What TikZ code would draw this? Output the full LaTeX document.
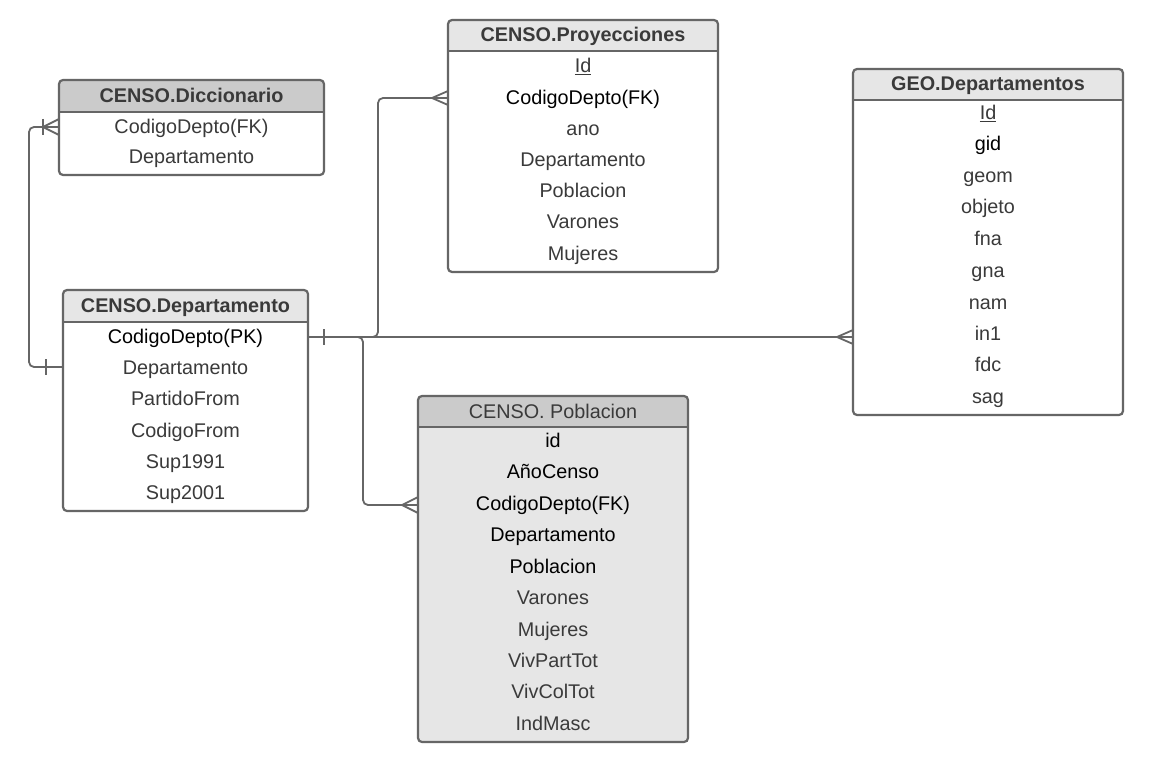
\documentclass[tikz,border=0pt]{standalone}
\usepackage{fontspec}
\setmainfont{Liberation Sans}
\usetikzlibrary{calc}
\definecolor{lc}{HTML}{666666}
\definecolor{tc}{HTML}{3A3A3A}
\definecolor{hl}{HTML}{E6E6E6}
\definecolor{hd}{HTML}{CBCBCB}
\tikzset{
  tblbox/.style={inner sep=0pt, outer sep=0pt, anchor=north west},
  txt/.style={inner sep=0pt, text height=14pt, text depth=0pt, font=\fontsize{19.8}{23}\selectfont},
  row/.style={txt, text=tc},
  rowk/.style={txt, text=black},
  hdr/.style={txt, text=tc, font=\fontsize{19.8}{23}\selectfont\bfseries},
  hdrn/.style={txt, text=tc},
  conn/.style={draw=lc, line width=1.8pt, rounded corners=5pt},
  tick/.style={draw=lc, line width=1.8pt}
}
\newcommand\mktable[8]{%
  \node[tblbox, fill=#6, minimum width=#4pt, minimum height=#5pt] (#1) at (#2,#3) {};
  \begin{scope}
    \clip[rounded corners=4pt] (#1.north west) rectangle (#1.south east);
    \fill[#7] (#1.north west) rectangle ($(#1.north east)+(0,#8)$);
  \end{scope}
  \draw[lc, line width=2pt] ($(#1.north west)+(0,#8)$) -- ($(#1.north east)+(0,#8)$);
  \draw[lc, line width=2.2pt, rounded corners=4pt] (#1.north west) rectangle (#1.south east);
}
\newcommand\crowfoot[2]{% coordinate, half spread
  \draw[tick] ($(#1)+(-16,0)$) -- ($(#1)+(0,-#2)$);
  \draw[tick] ($(#1)+(-16,0)$) -- ($(#1)+(0,#2)$);
}
\begin{document}
\begin{tikzpicture}[x=1pt,y=-1pt]
\useasboundingbox[fill=white] (0,0) rectangle (1174,767);

% ---------- tables ----------
\mktable{dic}{59}{80}{265}{95}{white}{hd}{32}
\node[hdr] (dic-h) at (191.5,96) {CENSO.Diccionario};
\node[row] (dic-1) at (191.5,127) {CodigoDepto(FK)};
\node[row] (dic-2) at (191.5,157) {Departamento};

\mktable{proy}{448}{20}{270}{252}{white}{hl}{31}
\node[hdr] (proy-h) at (583,35) {CENSO.Proyecciones};
\node[row] (proy-1) at (583,66) {\underline{Id}};
\node[rowk] (proy-2) at (583,98) {CodigoDepto(FK)};
\node[row] (proy-3) at (583,129) {ano};
\node[row] (proy-4) at (583,160) {Departamento};
\node[row] (proy-5) at (583,191) {Poblacion};
\node[row] (proy-6) at (583,222) {Varones};
\node[row] (proy-7) at (583,254) {Mujeres};

\mktable{geo}{853}{69}{270}{346}{white}{hl}{31}
\node[hdr] (geo-h) at (988,84) {GEO.Departamentos};
\node[row] (geo-1) at (988,113) {\underline{Id}};
\node[rowk] (geo-2) at (988,144) {gid};
\node[row] (geo-3) at (988,176) {geom};
\node[row] (geo-4) at (988,207) {objeto};
\node[row] (geo-5) at (988,239) {fna};
\node[row] (geo-6) at (988,270) {gna};
\node[row] (geo-7) at (988,302) {nam};
\node[row] (geo-8) at (988,333) {in1};
\node[row] (geo-9) at (988,364) {fdc};
\node[row] (geo-10) at (988,396) {sag};

\mktable{dep}{63}{290}{245}{221}{white}{hl}{32}
\node[hdr] (dep-h) at (185.5,305) {CENSO.Departamento};
\node[rowk] (dep-1) at (185.5,336) {CodigoDepto(PK)};
\node[row] (dep-2) at (185.5,367) {Departamento};
\node[row] (dep-3) at (185.5,398) {PartidoFrom};
\node[row] (dep-4) at (185.5,430) {CodigoFrom};
\node[row] (dep-5) at (185.5,461) {Sup1991};
\node[row] (dep-6) at (185.5,492) {Sup2001};

\mktable{pob}{418}{396}{270}{346}{hl}{hd}{31}
\node[hdrn] (pob-h) at (553,411) {CENSO. Poblacion};
\node[rowk] (pob-1) at (553,440) {id};
\node[rowk] (pob-2) at (553,471) {AñoCenso};
\node[rowk] (pob-3) at (553,503) {CodigoDepto(FK)};
\node[rowk] (pob-4) at (553,534) {Departamento};
\node[rowk] (pob-5) at (553,566) {Poblacion};
\node[row] (pob-6) at (553,597) {Varones};
\node[row] (pob-7) at (553,629) {Mujeres};
\node[row] (pob-8) at (553,660) {VivPartTot};
\node[row] (pob-9) at (553,691) {VivColTot};
\node[row] (pob-10) at (553,723) {IndMasc};

% ---------- connector end points ----------
\coordinate (s-left) at (dep.west |- dep-2);
\coordinate (s-right) at ($(dep.east |- dep-1)+(0,1)$);
\coordinate (e-dic) at (dic.west |- dic-1);
\coordinate (e-proy) at (proy.west |- proy-2);
\coordinate (e-geo) at (geo.west |- s-right);
\coordinate (e-pob) at ($(pob.west |- pob-3)+(0,2)$);

% ---------- connectors ----------
\draw[conn] (s-left) -- ++(-34,0) |- (e-dic);
\draw[conn] (s-right) -- ++(70,0) |- (e-proy);
\draw[conn] (s-right) -- ++(55,0) |- (e-pob);
\draw[conn] (s-right) -- (e-geo);

% one marks
\draw[tick] ($(s-left)+(-17,-8)$) -- ++(0,16);
\draw[tick] ($(s-right)+(16,-8)$) -- ++(0,16);
\draw[tick] ($(e-dic)+(-16,-8)$) -- ++(0,16);

% many marks
\crowfoot{e-dic}{8}
\crowfoot{e-proy}{7}
\crowfoot{e-geo}{7}
\crowfoot{e-pob}{8}
\end{tikzpicture}
\end{document}
